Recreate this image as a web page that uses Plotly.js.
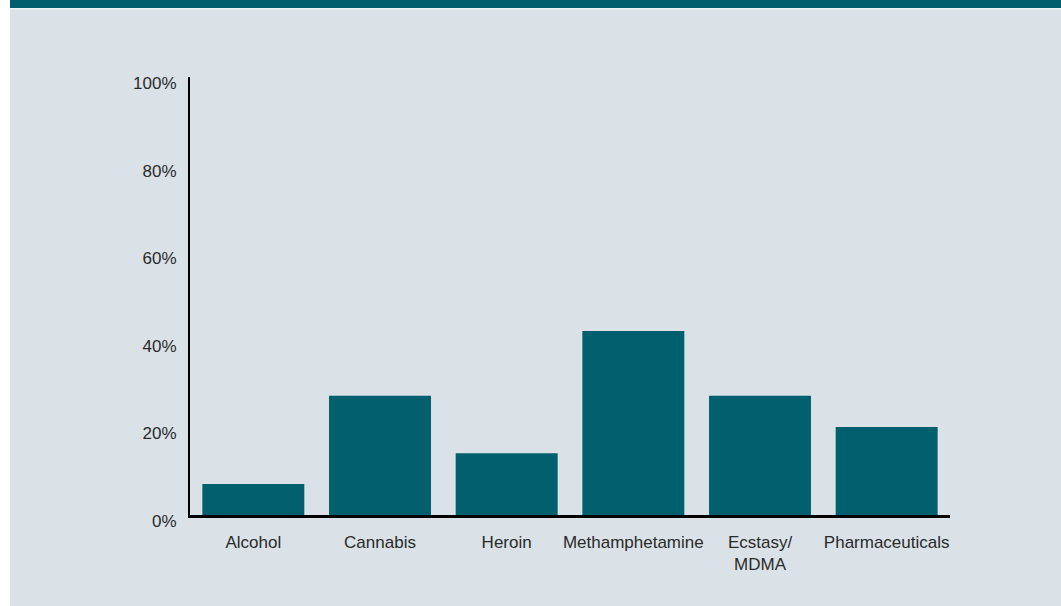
<!DOCTYPE html>
<html>
<head>
<meta charset="utf-8">
<script src="https://cdn.plot.ly/plotly-3.0.1.min.js"></script>
<style>
html,body{margin:0;padding:0;background:#ffffff;}
#chart{width:1061px;height:606px;}
</style>
</head>
<body>
<div id="chart"></div>
<script>
const categories = ["Alcohol", "Cannabis", "Heroin", "Methamphetamine", "Ecstasy/<br>MDMA", "Pharmaceuticals"];
const shares = [0.071, 0.272, 0.141, 0.42, 0.272, 0.201];
const yTickVals = [0, 0.2, 0.4, 0.6, 0.8, 1.0];
const yTickText = ["0%", "20%", "40%", "60%", "80%", "100%"];

const W = 1061, H = 606;
const M = {l: 190, r: 111, t: 77, b: 91};
const pw = W - M.l - M.r, ph = H - M.t - M.b;
const px = p => (p - M.l) / pw;
const py = p => (H - M.b - p) / ph;

const teal = "#02606e";
const panel = "#dae2e8";
const fontFam = "'Liberation Sans', Arial, sans-serif";
const textCol = "#2a2a2a";

const trace = {
  type: "bar",
  x: categories,
  y: shares,
  marker: {color: teal, line: {width: 0}},
  hoverinfo: "skip"
};

const layout = {
  width: W, height: H,
  margin: M,
  paper_bgcolor: panel,
  plot_bgcolor: panel,
  showlegend: false,
  bargap: 0.195,
  font: {family: fontFam, size: 17, color: textCol},
  xaxis: {
    type: "category",
    range: [-0.5, 5.5],
    showline: true, linecolor: "#000000", linewidth: 2.5,
    showgrid: false, zeroline: false,
    ticks: "", ticklabelstandoff: 10,
    tickfont: {family: fontFam, size: 17, color: textCol}
  },
  yaxis: {
    range: [0, 1],
    tickvals: yTickVals, ticktext: yTickText,
    showline: true, linecolor: "#000000", linewidth: 2,
    showgrid: false, zeroline: false,
    ticks: "", ticklabelstandoff: 8, ticklabelshift: 6,
    tickfont: {family: fontFam, size: 17, color: textCol}
  },
  shapes: [
    {type: "rect", xref: "paper", yref: "paper", layer: "below",
     x0: px(0), x1: px(10), y0: py(H), y1: py(0),
     fillcolor: "#ffffff", line: {width: 0}},
    {type: "rect", xref: "paper", yref: "paper", layer: "below",
     x0: px(10), x1: px(W), y0: py(8), y1: py(0),
     fillcolor: teal, line: {width: 0}},
    {type: "rect", xref: "paper", yref: "paper", layer: "below",
     x0: px(10), x1: px(W), y0: py(9.5), y1: py(8),
     fillcolor: "#eef3f5", line: {width: 0}}
  ]
};

Plotly.newPlot("chart", [trace], layout, {displayModeBar: false, staticPlot: true});
</script>
</body>
</html>
